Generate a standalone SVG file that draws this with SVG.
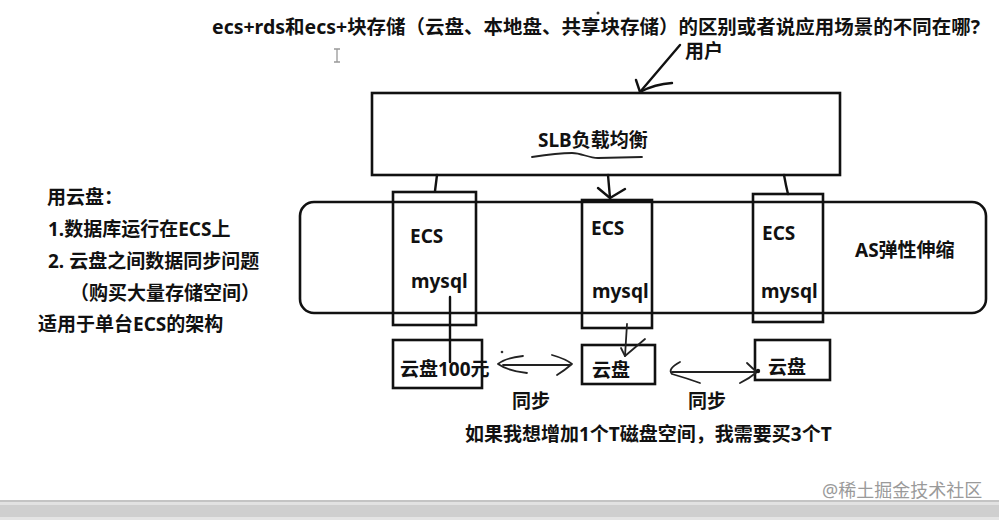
<svg xmlns="http://www.w3.org/2000/svg" width="999" height="520" viewBox="0 0 999 520">
  <style>
    .t { font-family: "Noto Sans", "Noto Sans CJK SC", sans-serif; font-weight: bold; font-size: 19px; fill: #111; }
    .box { fill: none; stroke: #111; stroke-width: 2.6; }
    .ln { fill: none; stroke: #111; stroke-width: 2.4; stroke-linecap: round; stroke-linejoin: round; }
    .thin { fill: none; stroke: #222; stroke-width: 1.8; stroke-linecap: round; stroke-linejoin: round; }
  </style>
  <rect x="0" y="0" width="999" height="520" fill="#ffffff"/>

  <g id="title">
    <text class="t" x="212" y="34" textLength="768" lengthAdjust="spacingAndGlyphs">ecs+rds和ecs+块存储（云盘、本地盘、共享块存储）的区别或者说应用场景的不同在哪?</text>
    <circle cx="598" cy="13" r="1.5" fill="#333"/>
    <path d="M334,49 h6 M337,49 v13 M334,62 h6" stroke="#999" stroke-width="1.3" fill="none"/>
  </g>

  <g id="user">
    <text class="t" x="685" y="58">用户</text>
  </g>

  <g id="notes">
    <text class="t" x="47" y="204">用云盘：</text>
    <text class="t" x="48" y="236">1.数据库运行在ECS上</text>
    <text class="t" x="48" y="268">2. 云盘之间数据同步问题</text>
    <text class="t" x="70" y="300">（购买大量存储空间）</text>
    <text class="t" x="38" y="331">适用于单台ECS的架构</text>
  </g>

  <g id="slb">
    <rect class="box" x="372" y="93" width="468" height="82"/>
    <text class="t" x="538" y="147">SLB负载均衡</text>
    <path class="thin" d="M532,157 C545,155 560,153 572,153 C582,153 588,158 598,158 L642,157"/>
  </g>

  <g id="as-group">
    <rect class="box" x="300" y="202" width="686" height="111" rx="14" ry="14"/>
    <text class="t" x="855" y="257">AS弹性伸缩</text>
  </g>

  <g id="ecs-1">
    <rect class="box" x="393" y="192" width="83" height="133"/>
    <text class="t" x="410" y="243">ECS</text>
    <text class="t" x="411" y="288">mysql</text>
  </g>
  <g id="ecs-2">
    <rect class="box" x="582" y="200" width="70" height="128"/>
    <text class="t" x="591" y="235">ECS</text>
    <text class="t" x="592" y="298">mysql</text>
  </g>
  <g id="ecs-3">
    <rect class="box" x="753" y="194" width="70" height="128"/>
    <text class="t" x="762" y="240">ECS</text>
    <text class="t" x="761" y="298">mysql</text>
  </g>

  <g id="disk-1">
    <rect class="box" x="393" y="340" width="89" height="48"/>
    <text class="t" x="400" y="376">云盘100元</text>
  </g>
  <g id="disk-2">
    <rect class="box" x="582" y="345" width="73" height="39"/>
    <text class="t" x="592" y="377">云盘</text>
  </g>
  <g id="disk-3">
    <rect class="box" x="755" y="340" width="75" height="40"/>
    <text class="t" x="768" y="374">云盘</text>
  </g>

  <g id="connectors">
    <!-- user arrow -->
    <path class="ln" d="M680,45 L640,92"/>
    <path class="ln" d="M636,80 L640,92 Q655,84 672,83"/>
    <!-- SLB to ECS -->
    <path class="ln" d="M437,175 Q436,183 435,191"/>
    <path class="ln" d="M608,175 L610,198"/>
    <path class="ln" d="M598,188 L610,198 L625,189"/>
    <path class="ln" d="M784,175 Q786,186 788,194"/>
    <!-- mysql to disks -->
    <path class="ln" d="M450,297 L450,362"/>
    <path class="thin" d="M627,324 L625,356"/>
    <path class="thin" d="M621,348 L625,356 L645,339"/>
    <!-- sync arrows -->
    <path class="thin" d="M503,365 L570,365"/>
    <path class="thin" d="M523,356 Q505,358 498,364 Q508,371 527,373"/>
    <path class="thin" d="M552,355 Q566,359 572,364 Q565,370 557,375"/>
    <circle cx="502" cy="352" r="1.3" fill="#333"/>
    <path class="thin" d="M672,372 L757,372"/>
    <path class="thin" d="M680,362 Q667,369 672,374 Q686,378 700,383"/>
    <path class="thin" d="M747,363 Q752,368 757,372 Q750,378 740,383"/>
    <circle cx="758" cy="371" r="2.2" fill="#111"/>
  </g>

  <g id="sync-labels">
    <text class="t" x="512" y="408">同步</text>
    <text class="t" x="688" y="408">同步</text>
    <text class="t" x="465" y="441">如果我想增加1个T磁盘空间，我需要买3个T</text>
  </g>

  <g id="footer">
    <text x="822" y="497" font-family="Noto Sans, Noto Sans CJK SC, sans-serif" font-size="18" fill="#9a9a9a">@稀土掘金技术社区</text>
    <rect x="0" y="500" width="999" height="2" fill="#c4c4c4"/>
    <rect x="0" y="502" width="999" height="3" fill="#e2e2e2"/>
    <rect x="0" y="505" width="999" height="12" fill="#cfcfcf"/>
    <rect x="0" y="517" width="999" height="3" fill="#e4e4e4"/>
  </g>
</svg>
